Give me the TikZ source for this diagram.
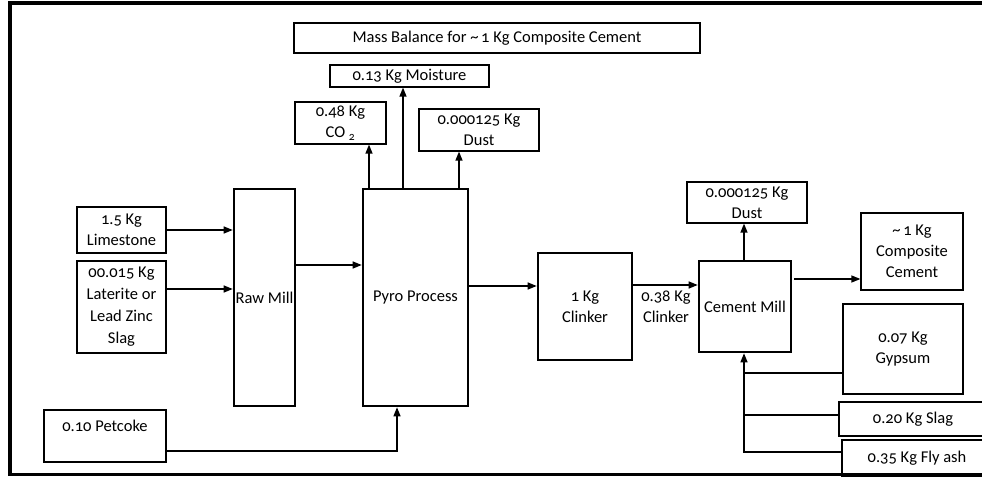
\documentclass[tikz,border=0pt]{standalone}
\usepackage{fontspec}
\setmainfont{Carlito}[Numbers=OldStyle]
\usetikzlibrary{arrows.meta}
\begin{document}
\begin{tikzpicture}[x=1pt,y=-1pt,
  font=\fontsize{16.5}{21}\selectfont,
  thickbox/.style={draw, line width=2.6pt, inner sep=0pt, align=center},
  thinbox/.style={draw, line width=1.2pt, inner sep=0pt, align=center},
  arr/.style={draw, line width=1.3pt, -{Triangle[length=9pt,width=7pt]}},
  ln/.style={draw, line width=1.3pt}]
\useasboundingbox (0,0) rectangle (982,478);
\begin{scope}
\clip (0,0) rectangle (982,478);
\draw[line width=3.2pt] (10,3) rectangle (1000,474.5);
\node[thickbox, minimum width=406, minimum height=30] (title) at (497,38) {Mass Balance for \textasciitilde{}\,1 Kg Composite Cement};
\node[thinbox, minimum width=159, minimum height=22] (moist) at (409.5,76) {0.13 Kg Moisture};
\node[thinbox, minimum width=91, minimum height=42] (co2) at (340.5,123) {0.48 Kg\\CO~\textsubscript{2}};
\node[thinbox, minimum width=120, minimum height=42] (dust1) at (479,130) {0.000125 Kg\\Dust};
\node[thickbox, minimum width=105, minimum height=217] (pyro) at (415.5,297.5) {Pyro Process};
\node[thickbox, minimum width=61, minimum height=217] (raw) at (264.5,297.5) {Raw Mill};
\node[thickbox, minimum width=89, minimum height=46] (lime) at (121.5,230) {1.5 Kg\\Limestone};
\node[thickbox, minimum width=89, minimum height=92, font=\fontsize{16.5}{22}\selectfont] (lat) at (121.5,307) {00.015 Kg\\Laterite or\\Lead Zinc\\Slag};
\node[thinbox, minimum width=122, minimum height=52] (pet) at (105,436) {};
\node (petlbl) at (105,426) {0.10 Petcoke};
\node[thickbox, minimum width=94, minimum height=107] (clink) at (585,306.5) {1 Kg\\Clinker};
\node[thickbox, minimum width=92, minimum height=91] (cmill) at (745,306.5) {Cement Mill};
\node[thinbox, minimum width=120, minimum height=41] (dust2) at (747,202.5) {0.000125 Kg\\Dust};
\node[thinbox, minimum width=102, minimum height=77] (comp) at (912,251.5) {\textasciitilde{}\,1 Kg\\Composite\\Cement};
\node[thinbox, minimum width=120, minimum height=90] (gyp) at (903,349) {0.07 Kg\\Gypsum};
\node[thinbox, minimum width=148, minimum height=34] (slag) at (913,419) {0.20 Kg Slag};
\node[thinbox, minimum width=150, minimum height=36] (fly) at (917,458) {0.35 Kg Fly ash};
\node[align=center] (lbl) at (666,307) {0.38 Kg\\Clinker};
\draw[arr] (lime.east) -- (lime.east -| raw.west);
\draw[arr] ([yshift=18pt]lat.east) -- ([yshift=18pt]lat.east -| raw.west);
\draw[arr] ([yshift=32.5pt]raw.east) -- ([yshift=32.5pt]raw.east -| pyro.west);
\draw[arr] ([yshift=11.5pt]pyro.east) -- ([yshift=11.5pt]pyro.east -| clink.west);
\draw[arr] ([yshift=21.5pt]clink.east) -- ([yshift=21.5pt]clink.east -| cmill.west);
\draw[arr] ([xshift=2pt,yshift=27.5pt]cmill.east) -- ([yshift=27.5pt]cmill.east -| comp.west);
\draw[arr] ([xshift=-1pt]cmill.north) -- ([xshift=-1pt]cmill.north |- dust2.south);
\draw[arr] ([xshift=-46.5pt]pyro.north) -- ([xshift=-46.5pt]pyro.north |- co2.south);
\draw[arr] ([xshift=-12.5pt]pyro.north) -- ([xshift=-12.5pt]pyro.north |- moist.south);
\draw[arr] ([xshift=43.5pt]pyro.north) -- ([xshift=43.5pt]pyro.north |- dust1.south);
\draw[arr] ([yshift=-15pt]pet.east) -| ([xshift=-18.5pt]pyro.south);
\draw[arr] ([yshift=6pt]fly.west) -| ([xshift=-1pt]cmill.south);
\draw[ln] ([yshift=-24pt]gyp.west) -- ([yshift=-24pt]gyp.west -| cmill.south);
\draw[ln] ([yshift=4pt]slag.west) -- ([yshift=4pt]slag.west -| cmill.south);
\end{scope}
\end{tikzpicture}
\end{document}
